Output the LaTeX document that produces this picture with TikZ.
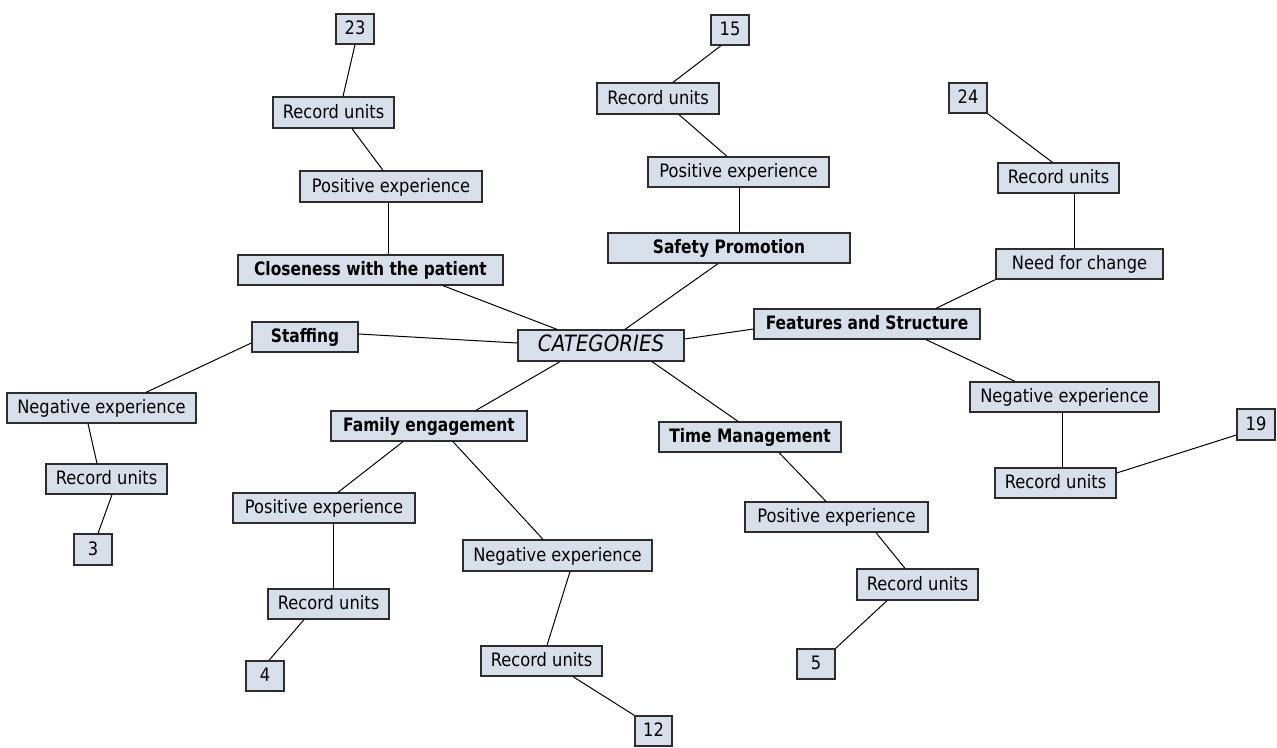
\documentclass[tikz,border=0pt]{standalone}
\usepackage{fontspec}
\setmainfont{DejaVu Sans}[FakeStretch=0.88, BoldFeatures={FakeStretch=0.835}]
\definecolor{boxfill}{RGB}{214,223,234}
\definecolor{boxline}{RGB}{45,45,45}
\begin{document}
\begin{tikzpicture}[x=1pt,y=-1pt,
  box/.style={draw=boxline, fill=boxfill, line width=1.3pt, inner sep=0pt,
    minimum height=30pt, font=\fontsize{18.5}{21}\selectfont,
    text height=15pt, text depth=4pt},
  catbox/.style={box, font=\fontsize{22.5}{25}\selectfont\itshape,
    text height=17.5pt, text depth=5pt},
  bbox/.style={box, font=\fontsize{18.5}{21}\selectfont\bfseries},
  lnk/.style={line width=1pt, draw=black}
]
\useasboundingbox[fill=white] (0,0) rectangle (1277,747);

% centre
\node[catbox, minimum width=166pt, minimum height=31pt] (cat) at (601,345.5) {CATEGORIES};

% Closeness branch
\node[box, minimum width=38pt] (n23) at (355,29) {23};
\node[box, minimum width=121pt, minimum height=31pt] (ruA) at (333.5,112.5) {Record units};
\node[box, minimum width=182pt, minimum height=31pt] (posA) at (391,186.5) {Positive experience};
\node[bbox, minimum width=265pt] (clos) at (370.5,270) {Closeness with the patient};

% Staffing branch
\node[bbox, minimum width=106pt] (staff) at (305,337) {Staffing};
\node[box, minimum width=189pt] (negS) at (101.5,408) {Negative experience};
\node[box, minimum width=121pt] (ruS) at (106.5,479) {Record units};
\node[box, minimum width=38pt, minimum height=31pt] (n3) at (93,549.5) {3};

% Family branch
\node[bbox, minimum width=196pt] (fam) at (429,426) {Family engagement};
\node[box, minimum width=182pt] (posF) at (324,508) {Positive experience};
\node[box, minimum width=121pt] (ruF) at (328.5,604) {Record units};
\node[box, minimum width=38pt] (n4) at (265,676) {4};
\node[box, minimum width=189pt, minimum height=31pt] (negF) at (557.5,555.5) {Negative experience};
\node[box, minimum width=121pt] (ruF2) at (541.5,661) {Record units};
\node[box, minimum width=37pt] (n12) at (653.5,731) {12};

% Time branch
\node[bbox, minimum width=182pt] (time) at (750,437) {Time Management};
\node[box, minimum width=183pt] (posT) at (836.5,517) {Positive experience};
\node[box, minimum width=121pt, minimum height=31pt] (ruT) at (917.5,584.5) {Record units};
\node[box, minimum width=38pt] (n5) at (816,664) {5};

% Safety branch
\node[box, minimum width=38pt] (n15) at (730,30) {15};
\node[box, minimum width=122pt, minimum height=31pt] (ruP) at (658,98.5) {Record units};
\node[box, minimum width=181pt] (posP) at (738.5,172) {Positive experience};
\node[bbox, minimum width=242pt] (safe) at (729,248) {Safety Promotion};

% Features branch
\node[box, minimum width=38pt] (n24) at (968,98) {24};
\node[box, minimum width=121pt] (ruN) at (1058.5,178) {Record units};
\node[box, minimum width=167pt] (need) at (1079.5,264) {Need for change};
\node[bbox, minimum width=226pt] (feat) at (867,324) {Features and Structure};
\node[box, minimum width=189pt] (negN) at (1064.5,397) {Negative experience};
\node[box, minimum width=121pt] (ruN2) at (1055.5,483) {Record units};
\node[box, minimum width=38pt, minimum height=31pt] (n19) at (1256,424.5) {19};

% connectors
\draw[lnk] (n23.south) -- ([xshift=9.5pt]ruA.north);
\draw[lnk] ([xshift=18.5pt]ruA.south) -- ([xshift=-8pt]posA.north);
\draw[lnk] ([xshift=-3pt]posA.south) -- ([xshift=17.5pt]clos.north);
\draw[lnk] ([xshift=72.5pt]clos.south) -- ([xshift=-44pt]cat.north);

\draw[lnk] ([yshift=3pt]staff.east) -- ([yshift=2.5pt]cat.west);
\draw[lnk] ([yshift=-6pt]staff.west) -- ([xshift=44.5pt]negS.north);
\draw[lnk] ([xshift=-13.5pt]negS.south) -- ([xshift=-9.5pt]ruS.north);
\draw[lnk] ([xshift=5.5pt]ruS.south) -- ([xshift=5pt]n3.north);

\draw[lnk] ([xshift=-41pt]cat.south) -- ([xshift=47pt]fam.north);
\draw[lnk] ([xshift=-26pt]fam.south) -- ([xshift=14pt]posF.north);
\draw[lnk] ([xshift=9pt]posF.south) -- ([xshift=4.5pt]ruF.north);
\draw[lnk] ([xshift=-24.5pt]ruF.south) -- ([xshift=4pt]n4.north);
\draw[lnk] ([xshift=24pt]fam.south) -- ([xshift=-14.5pt]negF.north);
\draw[lnk] ([xshift=12.5pt]negF.south) -- ([xshift=5.5pt]ruF2.north);
\draw[lnk] ([xshift=31.5pt]ruF2.south) -- (n12.north west);

\draw[lnk] ([xshift=51pt]cat.south) -- ([xshift=-12pt]time.north);
\draw[lnk] ([xshift=29pt]time.south) -- ([xshift=-10.5pt]posT.north);
\draw[lnk] ([xshift=39.5pt]posT.south) -- ([xshift=-12.5pt]ruT.north);
\draw[lnk] ([xshift=-30.5pt]ruT.south) -- (n5.north east);

\draw[lnk] ([xshift=24pt]cat.north) -- ([xshift=-11pt]safe.south);
\draw[lnk] ([xshift=10pt]safe.north) -- ([xshift=0.5pt]posP.south);
\draw[lnk] ([xshift=-11.5pt]posP.north) -- ([xshift=21pt]ruP.south);
\draw[lnk] ([xshift=15pt]ruP.north) -- ([xshift=-9pt]n15.south);

\draw[lnk] ([yshift=6.5pt]cat.east) -- ([yshift=-5pt]feat.west);
\draw[lnk] ([xshift=69pt]feat.north) -- (need.south west);
\draw[lnk] ([xshift=-5.5pt]need.north) -- ([xshift=15.5pt]ruN.south);
\draw[lnk] ([xshift=-6pt]ruN.north) -- (n24.south east);
\draw[lnk] ([xshift=59pt]feat.south) -- ([xshift=-49.5pt]negN.north);
\draw[lnk] ([xshift=-2.5pt]negN.south) -- ([xshift=6.5pt]ruN2.north);
\draw[lnk] ([yshift=10pt]ruN2.east) -- ([yshift=-10.5pt]n19.west);
\end{tikzpicture}
\end{document}
